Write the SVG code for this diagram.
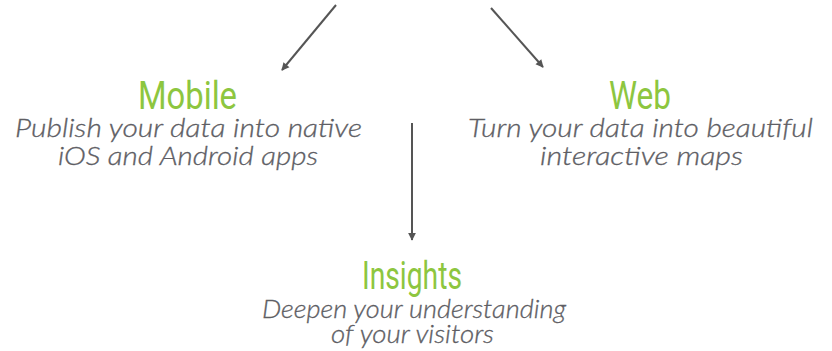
<svg xmlns="http://www.w3.org/2000/svg" width="832" height="351" viewBox="0 0 832 351">
<style>
.t{font-family:Roboto,"Liberation Sans",sans-serif;font-weight:400;font-size:38px;fill:#8dc63f;text-anchor:middle}
.s{font-family:Lato,"Open Sans","Liberation Sans",sans-serif;font-weight:300;font-style:italic;font-size:25px;fill:#5e5e64;stroke:#5e5e64;stroke-width:0.3;text-anchor:middle}
.c{stroke:#555;stroke-width:2;fill:none;marker-end:url(#ah)}
</style>
<defs>
<marker id="ah" viewBox="0 0 10 10" refX="9" refY="5" markerWidth="6" markerHeight="6" orient="auto" markerUnits="userSpaceOnUse" style="overflow:visible">
<path d="M0,0 L10,5 L0,10 z" fill="#555" transform="scale(1.3) translate(-2,-1.15)"/>
</marker>
</defs>
<g id="connectors">
<line class="c" x1="336" y1="5" x2="282" y2="70"/>
<line class="c" x1="491" y1="8" x2="543" y2="67"/>
<line class="c" x1="412" y1="123" x2="412" y2="240"/>
</g>
<g id="mobile">
<text class="t" x="187.5" y="109" textLength="99" lengthAdjust="spacingAndGlyphs">Mobile</text>
<text class="s" x="188.5" y="137" textLength="347" lengthAdjust="spacingAndGlyphs">Publish your data into native</text>
<text class="s" x="188" y="165" textLength="260" lengthAdjust="spacingAndGlyphs">iOS and Android apps</text>
</g>
<g id="web">
<text class="t" x="640" y="109" textLength="62" lengthAdjust="spacingAndGlyphs">Web</text>
<text class="s" x="640.5" y="137" textLength="345" lengthAdjust="spacingAndGlyphs">Turn your data into beautiful</text>
<text class="s" x="641.5" y="165" textLength="203" lengthAdjust="spacingAndGlyphs">interactive maps</text>
</g>
<g id="insights">
<text class="t" x="412" y="289" textLength="100" lengthAdjust="spacingAndGlyphs">Insights</text>
<text class="s" x="414" y="318" textLength="304" lengthAdjust="spacingAndGlyphs">Deepen your understanding</text>
<text class="s" x="412.5" y="343" textLength="163" lengthAdjust="spacingAndGlyphs">of your visitors</text>
</g>
</svg>
